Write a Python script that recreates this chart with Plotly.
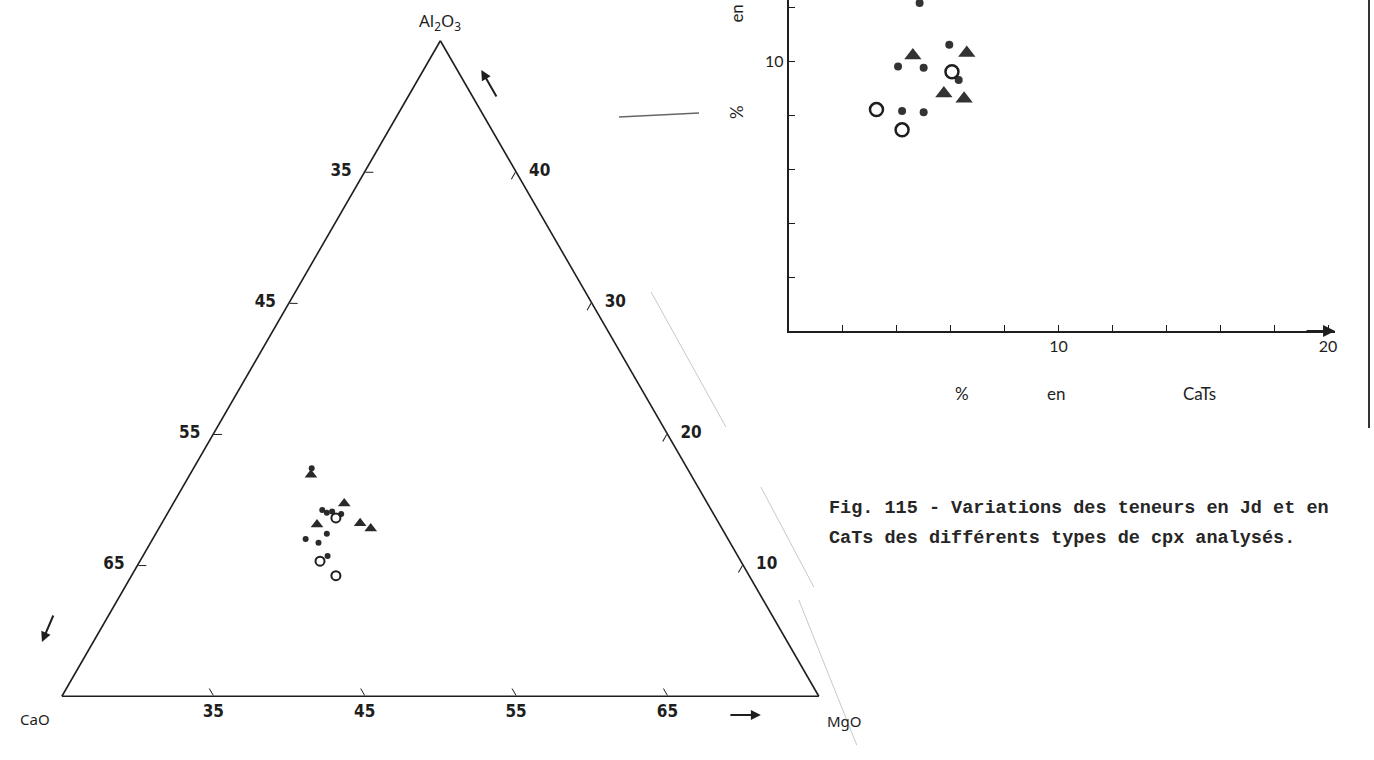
import plotly.graph_objects as go

# ---- ternary CaO - Al2O3 - MgO (wt %) ----
tri_al = [16.9, 14.7, 13.1, 13.2, 12.8, 36.7]
tri_ca = [50.1, 49.0, 51.6, 48.7, 48.2, 40.8]
tri_mg = [33.0, 36.3, 35.3, 38.1, 39.0, 22.5]

dot_al = [17.4, 14.2, 14.0, 14.1, 13.9, 12.4, 12.0, 11.7, 10.7]
dot_ca = [49.8, 50.7, 50.5, 50.1, 49.6, 51.3, 52.9, 52.2, 52.1]
dot_mg = [32.8, 35.1, 35.5, 35.8, 36.5, 36.3, 35.1, 36.1, 37.2]

circ_al = [13.6, 10.3, 9.2]
circ_ca = [50.1, 52.8, 52.3]
circ_mg = [36.3, 36.9, 38.5]

# tick labels as printed on each edge
left_vals = [10, 20, 30, 40]
left_text = ['65', '55', '45', '35']
bottom_vals = [35, 45, 55, 65]
bottom_text = ['65', '55', '45', '35']
right_vals = [35, 45, 55, 65]
right_text = ['40', '30', '20', '10']

# ---- % Jd vs % CaTs ----
cats_tri = [4.6, 6.6, 5.75, 6.5]
jd_tri = [10.2, 10.3, 8.8, 8.6]
cats_dot = [4.85, 5.95, 4.05, 5.0, 6.3, 4.2, 5.0]
jd_dot = [12.15, 10.6, 9.8, 9.75, 9.3, 8.15, 8.1]
cats_circ = [6.05, 3.25, 4.2]
jd_circ = [9.6, 8.2, 7.45]

x_ticks = [2, 4, 6, 8, 10, 12, 14, 16, 18, 20]
x_ticktext = ['', '', '', '', '10', '', '', '', '', '20']
y_ticks = [2, 4, 6, 8, 10, 12]
y_ticktext = ['', '', '', '', '10', '']

W, H = 1374, 760
INK = '#1e1e1e'
nb = '\u00a0'
tickfont = dict(family='DejaVu Sans Condensed, Liberation Sans Narrow, sans-serif',
                size=17, color=INK, weight='bold')
labfont = dict(family='Noto Sans, sans-serif', size=15, color=INK)

fig = go.Figure()

fig.add_trace(go.Scatterternary(a=tri_al, b=tri_ca, c=tri_mg, mode='markers', cliponaxis=False,
                                marker=dict(symbol='triangle-up', size=11, color='#2a2a2a')))
fig.add_trace(go.Scatterternary(a=dot_al, b=dot_ca, c=dot_mg, mode='markers', cliponaxis=False,
                                marker=dict(symbol='circle', size=6, color='#2a2a2a')))
fig.add_trace(go.Scatterternary(a=circ_al, b=circ_ca, c=circ_mg, mode='markers', cliponaxis=False,
                                marker=dict(symbol='circle-open', size=9, color='#1e1e1e',
                                            line=dict(width=2))))

fig.add_trace(go.Scatter(x=cats_tri, y=jd_tri, xaxis='x2', yaxis='y2', mode='markers',
                         marker=dict(symbol='triangle-up', size=15, color='#333')))
fig.add_trace(go.Scatter(x=cats_dot, y=jd_dot, xaxis='x2', yaxis='y2', mode='markers',
                         marker=dict(symbol='circle', size=8, color='#333')))
fig.add_trace(go.Scatter(x=cats_circ, y=jd_circ, xaxis='x2', yaxis='y2', mode='markers',
                         marker=dict(symbol='circle-open', size=13, color='#1e1e1e',
                                     line=dict(width=2.5))))


def axis_t(vmin, vals, text):
    return dict(min=vmin, tickmode='array', tickvals=vals, ticktext=text,
                ticks='inside', ticklen=8, tickwidth=1, tickcolor=INK,
                showgrid=False, linecolor=INK, linewidth=1.6,
                tickfont=tickfont, title=dict(text=''))


fig.update_layout(
    width=W, height=H,
    margin=dict(l=0, r=0, t=0, b=0),
    paper_bgcolor='white', plot_bgcolor='white',
    showlegend=False,
    ternary=dict(
        sum=100,
        domain=dict(x=[62 / W, 820 / W], y=[1 - 697 / H, 1 - 40 / H]),
        bgcolor='white',
        # a little room between the side labels and the edges
        aaxis=axis_t(0, left_vals, [t + nb * 2 for t in left_text]),
        baxis=axis_t(25, bottom_vals, bottom_text),
        caxis=axis_t(25, right_vals, [nb * 2 + t for t in right_text]),
    ),
    xaxis2=dict(domain=[790 / W, 1337 / W], range=[0, 547 / 27], anchor='y2',
                showline=True, linecolor=INK, linewidth=2, showgrid=False, zeroline=False,
                ticks='inside', ticklen=6, tickcolor=INK, tickvals=x_ticks, ticktext=x_ticktext,
                tickfont=dict(family='Lato, sans-serif', size=16, color=INK)),
    yaxis2=dict(domain=[1 - 331 / H, 1], range=[0, 331 / 27], anchor='x2',
                showline=True, linecolor=INK, linewidth=2, showgrid=False, zeroline=False,
                ticks='inside', ticklen=6, tickcolor=INK, tickvals=y_ticks, ticktext=y_ticktext,
                tickfont=dict(family='Lato, sans-serif', size=16, color=INK)),
)

# corner labels of the ternary
for txt, px, py, size in [('Al<sub>2</sub>O<sub>3</sub>', 441, 22, 17),
                          ('CaO', 35, 719, 15), ('MgO', 846, 721, 15)]:
    fig.add_annotation(x=px / W, y=1 - py / H, xref='paper', yref='paper', showarrow=False,
                       xanchor='center', yanchor='middle', text=txt,
                       font=dict(labfont, size=size))

fig.add_annotation(x=11.0, y=1 - 394 / H, xref='x2', yref='paper', showarrow=False,
                   xanchor='center', yanchor='middle',
                   text='%' + nb * 18 + 'en' + nb * 27 + 'CaTs',
                   font=dict(family='Lato, sans-serif', size=17, color=INK))
fig.add_annotation(x=737 / W, y=1 - 12 / H, xref='paper', yref='paper', showarrow=False,
                   xanchor='center', yanchor='middle',
                   textangle=-90, text='%' + nb * 19 + 'en' + nb * 19 + 'Jd',
                   font=dict(family='Lato, sans-serif', size=17, color=INK))

# arrow at the end of the CaTs axis
fig.add_annotation(x=547 / 27, y=0, xref='x2', yref='y2', ax=-30, ay=0, text='',
                   showarrow=True, arrowhead=2, arrowsize=1.2, arrowwidth=2, arrowcolor=INK)

# direction arrows of the ternary
for hx, hy, tx, ty in [(482, 70, 16, 28), (42, 642, 12, -28), (762, 715, -32, 0)]:
    fig.add_annotation(x=hx / W, y=1 - hy / H, xref='paper', yref='paper', ax=tx, ay=ty,
                       text='', showarrow=True, arrowhead=2, arrowsize=1, arrowwidth=2,
                       arrowcolor=INK)

caption = ['Fig. 115 - Variations des teneurs en Jd et en',
           'CaTs des différents types de cpx analysés.']
for i, line in enumerate(caption):
    fig.add_annotation(x=828 / W, y=1 - (508 + 30 * i) / H, xref='paper', yref='paper',
                       showarrow=False, xanchor='left', yanchor='middle', text=line,
                       font=dict(family='Liberation Mono, monospace', size=18.5,
                                 color='#262626', weight='bold'))

# frame line at the right and stray strokes of the scanned page
fig.add_shape(type='line', xref='paper', yref='paper', x0=1371 / W, x1=1371 / W,
              y0=1, y1=1 - 428 / H, line=dict(color='#333', width=2))
fig.add_shape(type='line', xref='paper', yref='paper', x0=620 / W, x1=700 / W,
              y0=1 - 117 / H, y1=1 - 113 / H, line=dict(color='#666', width=1.5))
for x0, y0, x1, y1 in [(652, 292, 727, 427), (762, 487, 815, 587), (800, 600, 858, 745)]:
    fig.add_shape(type='line', xref='paper', yref='paper', x0=x0 / W, x1=x1 / W,
                  y0=1 - y0 / H, y1=1 - y1 / H, line=dict(color='#c8c8c8', width=1))

fig.write_html('out.html', config={'displayModeBar': False},
               post_script="document.body.style.margin='0px';")
